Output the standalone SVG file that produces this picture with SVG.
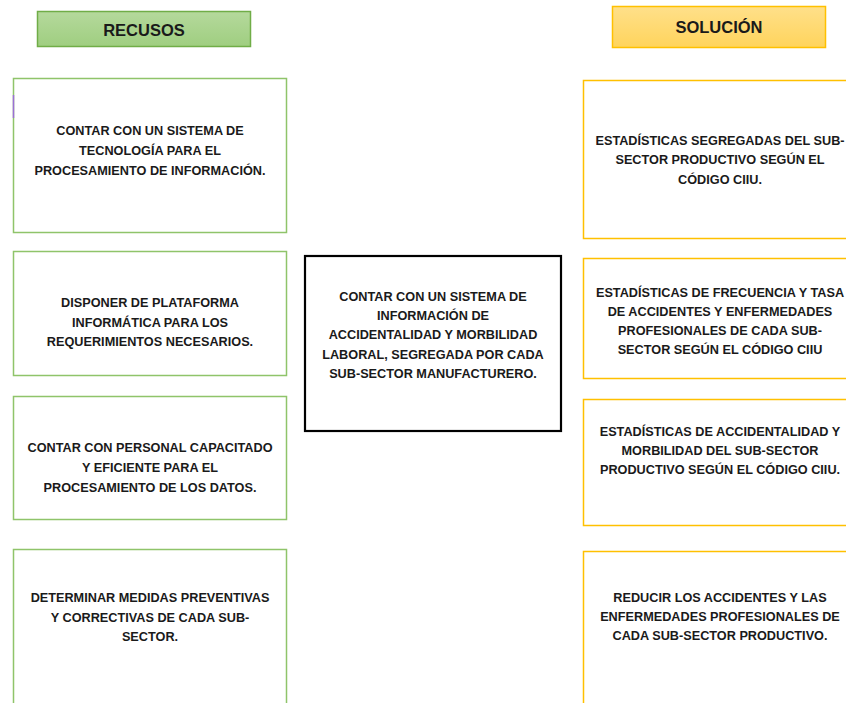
<svg xmlns="http://www.w3.org/2000/svg" width="846" height="703" viewBox="0 0 846 703">
<defs>
<linearGradient id="gGreen" x1="0" y1="0" x2="0" y2="1">
<stop offset="0" stop-color="#b5d99c"/><stop offset="1" stop-color="#9fce80"/>
</linearGradient>
<linearGradient id="gGold" x1="0" y1="0" x2="0" y2="1">
<stop offset="0" stop-color="#ffe08a"/><stop offset="1" stop-color="#ffd45c"/>
</linearGradient>
<style>
.t{font-family:"Liberation Sans",Arial,sans-serif;font-weight:bold;font-size:12.7px;fill:#1a1a1a;text-anchor:middle}
.h{font-family:"Liberation Sans",Arial,sans-serif;font-weight:bold;font-size:16.5px;fill:#1a1a1a;text-anchor:middle}
.gb{fill:#ffffff;stroke:#8fc46a;stroke-width:1.5}
.yb{fill:#ffffff;stroke:#ffc000;stroke-width:1.5}
</style>
</defs>
<rect width="846" height="703" fill="#ffffff"/>
<g id="header-recursos">
<rect x="37.5" y="11.5" width="213" height="35" fill="url(#gGreen)" stroke="#70ad47" stroke-width="1.5"/>
<text class="h" x="144" y="36">RECUSOS</text>
</g>
<g id="header-solucion">
<rect x="612.5" y="6.5" width="213" height="41" fill="url(#gGold)" stroke="#ffc000" stroke-width="1.5"/>
<text class="h" x="719" y="33">SOLUCIÓN</text>
</g>
<g id="rec1">
<rect class="gb" x="13.5" y="78.5" width="273" height="154"/>
<line x1="13.5" y1="95" x2="13.5" y2="118" stroke="#9b6fd6" stroke-width="1.5"/>
<text class="t" x="150" y="135">CONTAR CON UN SISTEMA DE</text>
<text class="t" x="150" y="155">TECNOLOGÍA PARA EL</text>
<text class="t" x="150" y="175">PROCESAMIENTO DE INFORMACIÓN.</text>
</g>
<g id="rec2">
<rect class="gb" x="13.5" y="251.5" width="273" height="124"/>
<text class="t" x="150" y="307">DISPONER DE PLATAFORMA</text>
<text class="t" x="150" y="327">INFORMÁTICA PARA LOS</text>
<text class="t" x="150" y="346">REQUERIMIENTOS NECESARIOS.</text>
</g>
<g id="rec3">
<rect class="gb" x="13.5" y="396.5" width="273" height="123"/>
<text class="t" x="150" y="452">CONTAR CON PERSONAL CAPACITADO</text>
<text class="t" x="150" y="472">Y EFICIENTE PARA EL</text>
<text class="t" x="150" y="492">PROCESAMIENTO DE LOS DATOS.</text>
</g>
<g id="rec4">
<rect class="gb" x="13.5" y="549.5" width="273" height="170"/>
<text class="t" x="150" y="602">DETERMINAR MEDIDAS PREVENTIVAS</text>
<text class="t" x="150" y="622">Y CORRECTIVAS DE CADA SUB-</text>
<text class="t" x="150" y="641">SECTOR.</text>
</g>
<g id="centro">
<rect x="305" y="256" width="256" height="175" fill="#ffffff" stroke="#000000" stroke-width="2.2"/>
<text class="t" x="433" y="301">CONTAR CON UN SISTEMA DE</text>
<text class="t" x="433" y="320">INFORMACIÓN DE</text>
<text class="t" x="433" y="339">ACCIDENTALIDAD Y MORBILIDAD</text>
<text class="t" x="433" y="359">LABORAL, SEGREGADA POR CADA</text>
<text class="t" x="433" y="378">SUB-SECTOR MANUFACTURERO.</text>
</g>
<g id="sol1">
<rect class="yb" x="583.5" y="80.5" width="275" height="158"/>
<text class="t" x="720" y="145">ESTADÍSTICAS SEGREGADAS DEL SUB-</text>
<text class="t" x="720" y="164">SECTOR PRODUCTIVO SEGÚN EL</text>
<text class="t" x="720" y="184">CÓDIGO CIIU.</text>
</g>
<g id="sol2">
<rect class="yb" x="583.5" y="258.5" width="275" height="120"/>
<text class="t" x="720" y="297">ESTADÍSTICAS DE FRECUENCIA Y TASA</text>
<text class="t" x="720" y="316">DE ACCIDENTES Y ENFERMEDADES</text>
<text class="t" x="720" y="335">PROFESIONALES DE CADA SUB-</text>
<text class="t" x="720" y="354">SECTOR SEGÚN EL CÓDIGO CIIU</text>
</g>
<g id="sol3">
<rect class="yb" x="583.5" y="399.5" width="275" height="126"/>
<text class="t" x="720" y="436">ESTADÍSTICAS DE ACCIDENTALIDAD Y</text>
<text class="t" x="720" y="455">MORBILIDAD DEL SUB-SECTOR</text>
<text class="t" x="720" y="474">PRODUCTIVO SEGÚN EL CÓDIGO CIIU.</text>
</g>
<g id="sol4">
<rect class="yb" x="583.5" y="551.5" width="275" height="168"/>
<text class="t" x="720" y="602">REDUCIR LOS ACCIDENTES Y LAS</text>
<text class="t" x="720" y="621">ENFERMEDADES PROFESIONALES DE</text>
<text class="t" x="720" y="640">CADA SUB-SECTOR PRODUCTIVO.</text>
</g>
<g id="connectors"></g>
</svg>
